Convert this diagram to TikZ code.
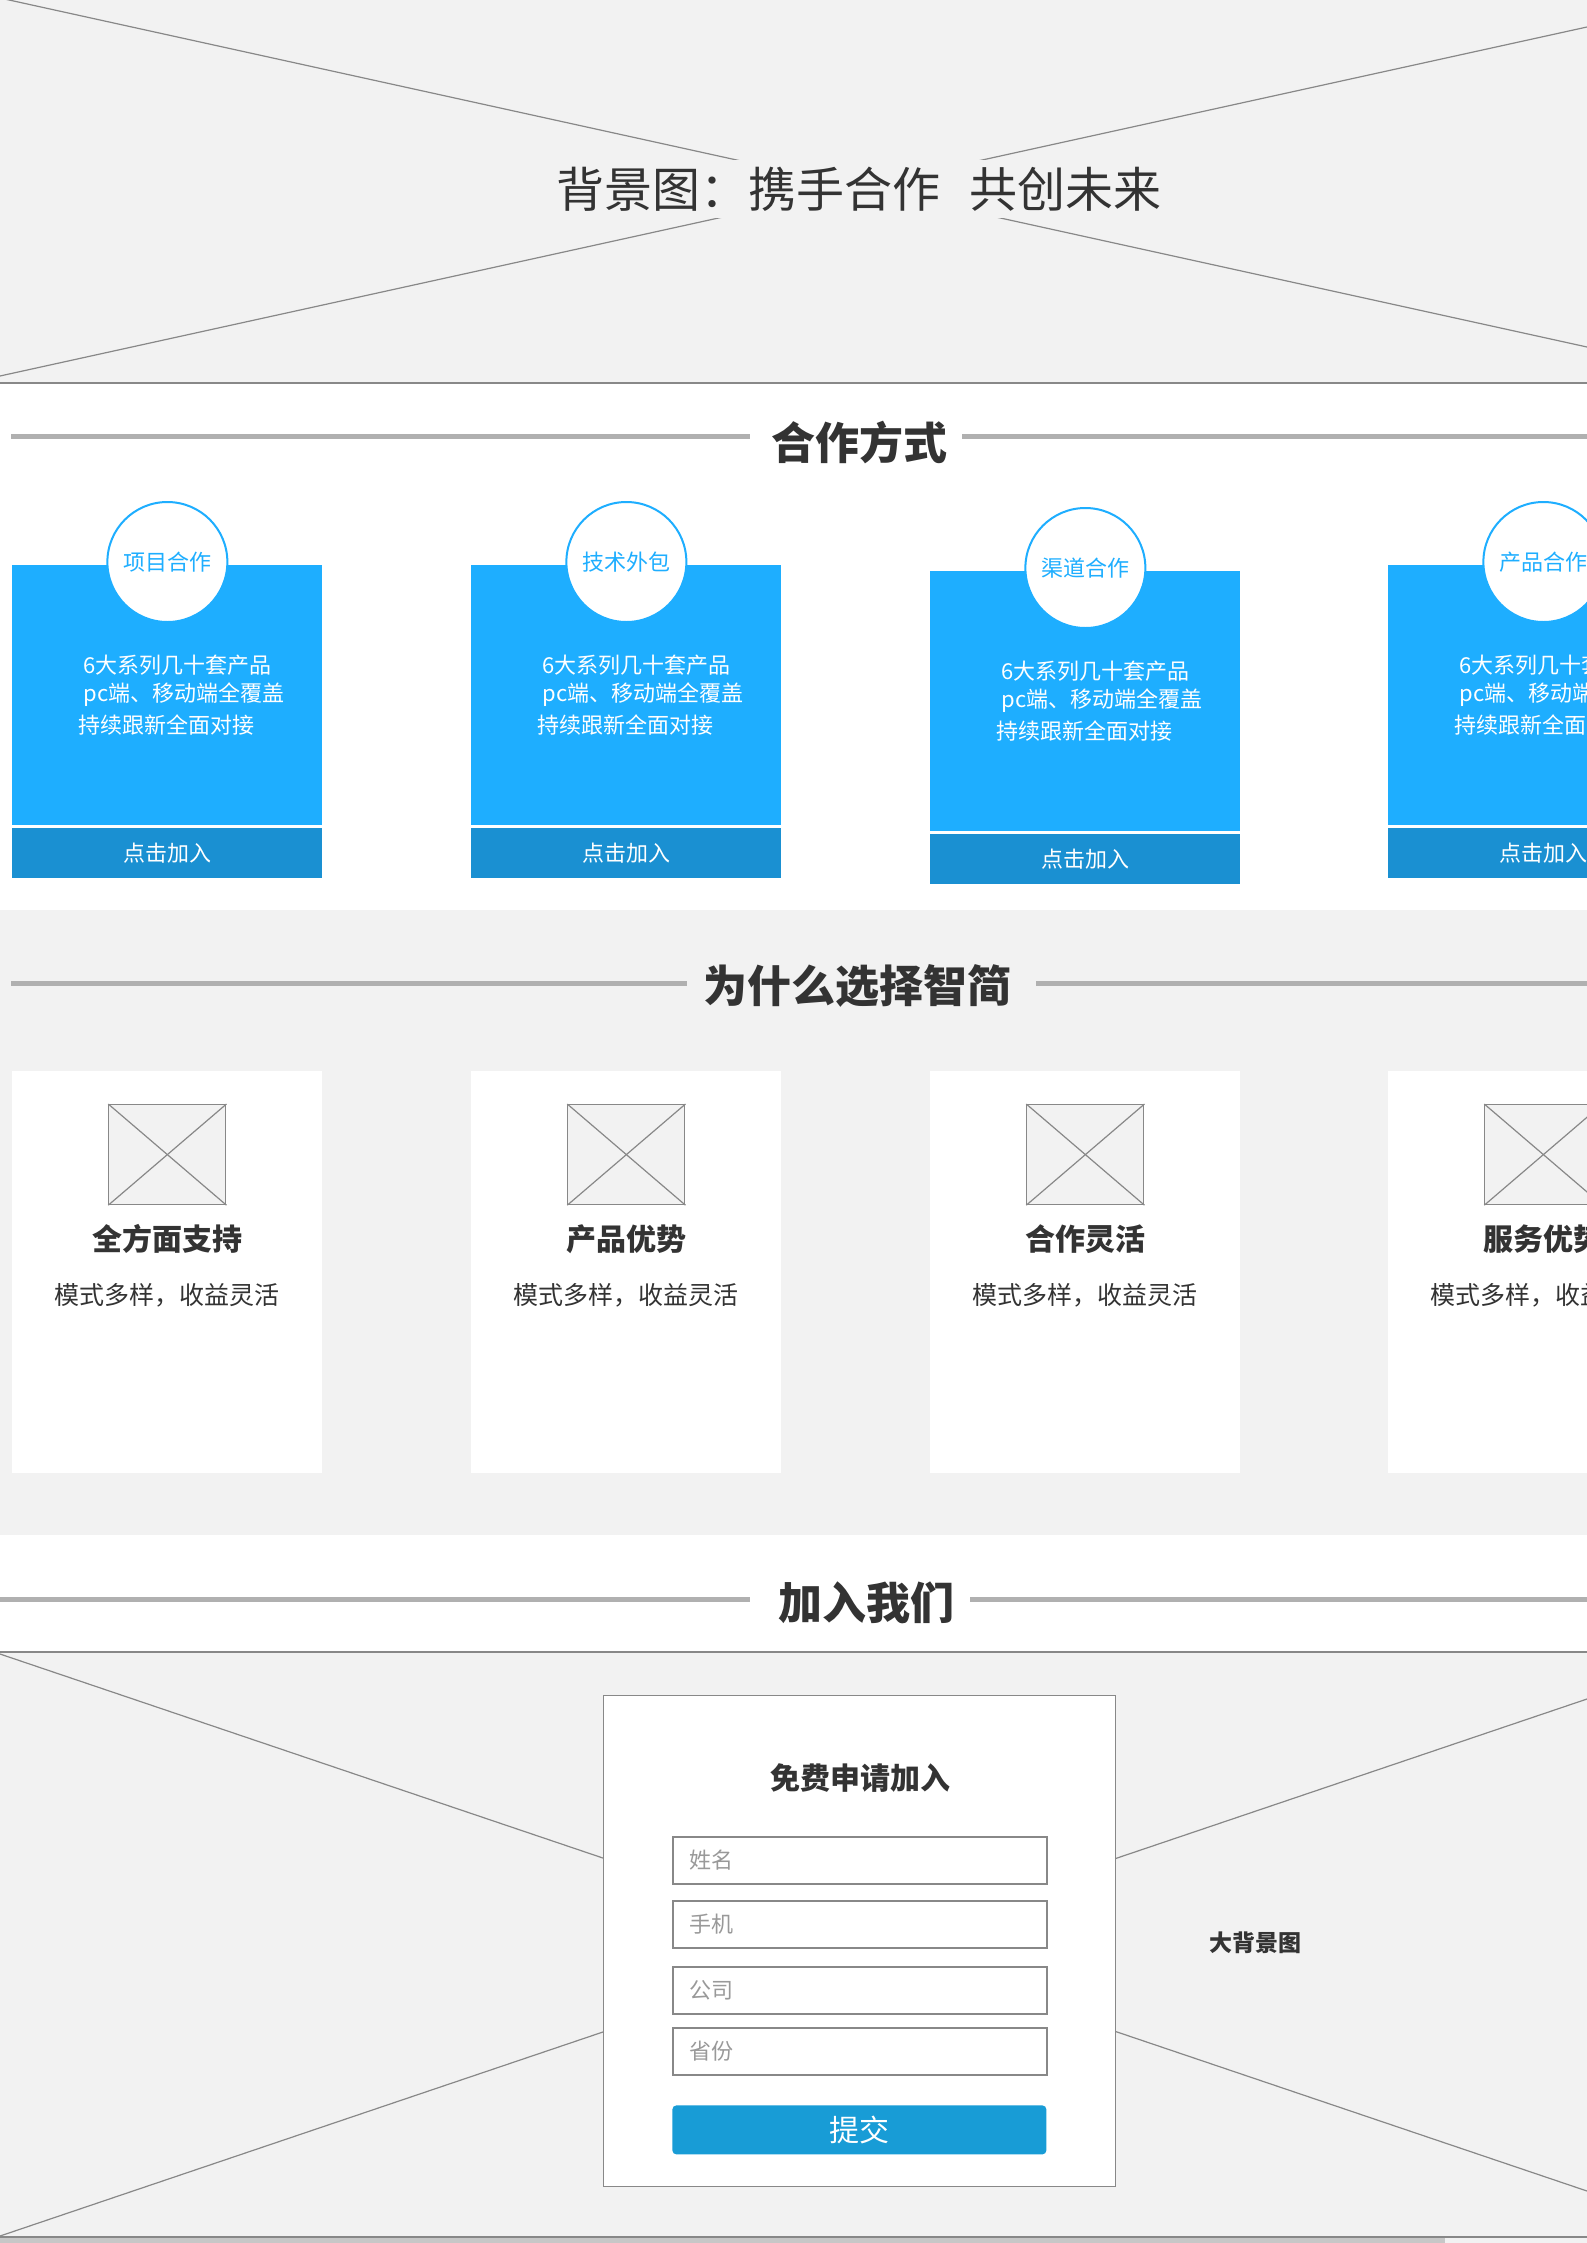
\documentclass[tikz,border=0pt]{standalone}
\usepackage{fontspec}
\setmainfont{Noto Sans CJK SC}

\definecolor{pagegrey}{RGB}{242,242,242}
\definecolor{rulegrey}{RGB}{176,176,176}
\definecolor{edgegrey}{RGB}{136,136,136}
\definecolor{inkgrey}{RGB}{51,51,51}
\definecolor{hintgrey}{RGB}{153,153,153}
\definecolor{cardblue}{RGB}{30,174,255}
\definecolor{bandblue}{RGB}{26,144,210}
\definecolor{btnblue}{RGB}{24,156,214}

\tikzset{every picture/.style={line width=0.75pt},
  crossline/.style={draw=edgegrey, line width=1.2pt},
  headrule/.style={draw=rulegrey, line width=5pt},
  headtext/.style={text=inkgrey, inner sep=0pt, font=\fontsize{44}{52}\selectfont\bfseries},
  bannertext/.style={fill=pagegrey, text=inkgrey, inner xsep=6pt, inner ysep=7pt, font=\fontsize{48}{56}\selectfont},
  cardtop/.style={fill=cardblue, draw=none, minimum width=310pt, minimum height=260pt, inner sep=0pt},
  cardband/.style={fill=bandblue, draw=none, minimum width=310pt, minimum height=50pt, inner sep=0pt, text=white, font=\fontsize{22}{26}\selectfont},
  tagcircle/.style={circle, fill=white, draw=cardblue, line width=2pt, minimum size=120pt, inner sep=0pt, text=cardblue, font=\fontsize{22}{26}\selectfont},
  cardline/.style={anchor=west, inner sep=0pt, text=white, font=\fontsize{22}{26}\selectfont},
  infocard/.style={fill=white, draw=none, minimum width=310pt, minimum height=402pt, inner sep=0pt},
  picbox/.style={fill=pagegrey, draw=edgegrey, line width=1.2pt, minimum width=117pt, minimum height=100pt, inner sep=0pt},
  infotitle/.style={text=inkgrey, inner sep=0pt, font=\fontsize{30}{36}\selectfont\bfseries},
  infotext/.style={text=inkgrey, inner sep=0pt, font=\fontsize{25}{30}\selectfont},
  formbox/.style={fill=white, draw=edgegrey, line width=1pt, minimum width=512pt, minimum height=491pt, inner sep=0pt},
  inputbox/.style={fill=white, draw=edgegrey, line width=1.5pt, text width=340pt, align=left, inner xsep=17pt, minimum height=47pt, text=hintgrey, font=\fontsize{22}{26}\selectfont},
  sendbtn/.style={fill=btnblue, draw=none, rounded corners=4pt, minimum width=374pt, minimum height=49pt, inner sep=0pt, text=white, font=\fontsize{30}{36}\selectfont}
}

\begin{document}
\begin{tikzpicture}[x=1pt,y=1pt,yscale=-1,xscale=1]
\clip (0,0) rectangle (1587,2243);

% Background panels
\fill[pagegrey] (0,0) rectangle (1587,383);
\fill[white] (0,383) rectangle (1587,910);
\fill[pagegrey] (0,910) rectangle (1587,1535);
\fill[white] (0,1535) rectangle (1587,1652);
\fill[pagegrey] (0,1652) rectangle (1587,2243);
\fill[black!22] (0,2238) rectangle (1445,2243);

%Straight Lines [banner cross]
\begin{scope}
\clip (0,0) rectangle (1587,383);
\draw[crossline] (0,-2) -- (1587,347);
\draw[crossline] (0,376) -- (1587,27);
\end{scope}
\draw[edgegrey, line width=2pt] (0,383) -- (1587,383);

% Text Node
\node[bannertext] (banner) at (859,189) {背景图：携手合作\hspace{0.6em}共创未来};

% Heading: cooperation
\node[headtext] (hcoop) at (859,443) {合作方式};
\draw[headrule] (11,436) -- (750,436);
\draw[headrule] (962,436) -- (1587,436);

% Card 1
\node[cardtop, anchor=north west] (ct1) at (12,565) {};
\node[tagcircle] (tag1) at ([yshift=-3pt]ct1.north) {项目合作};
\node[cardline] (ca1) at ([xshift=71pt,yshift=100pt]ct1.north west) {6大系列几十套产品};
\node[cardline] (cb1) at ([xshift=71pt,yshift=130pt]ct1.north west) {pc端、移动端全覆盖};
\node[cardline] (cc1) at ([xshift=66pt,yshift=160pt]ct1.north west) {持续跟新全面对接};
\node[cardband, anchor=north] (band1) at ([yshift=2pt]ct1.south) {点击加入};

% Card 2
\node[cardtop, anchor=north west] (ct2) at (471,565) {};
\node[tagcircle] (tag2) at ([yshift=-3pt]ct2.north) {技术外包};
\node[cardline] (ca2) at ([xshift=71pt,yshift=100pt]ct2.north west) {6大系列几十套产品};
\node[cardline] (cb2) at ([xshift=71pt,yshift=130pt]ct2.north west) {pc端、移动端全覆盖};
\node[cardline] (cc2) at ([xshift=66pt,yshift=160pt]ct2.north west) {持续跟新全面对接};
\node[cardband, anchor=north] (band2) at ([yshift=2pt]ct2.south) {点击加入};

% Card 3
\node[cardtop, anchor=north west] (ct3) at (930,571) {};
\node[tagcircle] (tag3) at ([yshift=-3pt]ct3.north) {渠道合作};
\node[cardline] (ca3) at ([xshift=71pt,yshift=100pt]ct3.north west) {6大系列几十套产品};
\node[cardline] (cb3) at ([xshift=71pt,yshift=130pt]ct3.north west) {pc端、移动端全覆盖};
\node[cardline] (cc3) at ([xshift=66pt,yshift=160pt]ct3.north west) {持续跟新全面对接};
\node[cardband, anchor=north] (band3) at ([yshift=2pt]ct3.south) {点击加入};

% Card 4
\node[cardtop, anchor=north west] (ct4) at (1388,565) {};
\node[tagcircle] (tag4) at ([yshift=-3pt]ct4.north) {产品合作};
\node[cardline] (ca4) at ([xshift=71pt,yshift=100pt]ct4.north west) {6大系列几十套产品};
\node[cardline] (cb4) at ([xshift=71pt,yshift=130pt]ct4.north west) {pc端、移动端全覆盖};
\node[cardline] (cc4) at ([xshift=66pt,yshift=160pt]ct4.north west) {持续跟新全面对接};
\node[cardband, anchor=north] (band4) at ([yshift=2pt]ct4.south) {点击加入};

% Heading: why
\node[headtext] (hwhy) at (857,986) {为什么选择智简};
\draw[headrule] (11,983) -- (687,983);
\draw[headrule] (1036,983) -- (1587,983);

% Info card 1
\node[infocard, anchor=north west] (ic1) at (12,1071) {};
\node[picbox, anchor=north] (pb1) at ([yshift=33pt]ic1.north) {};
\draw[crossline] (pb1.north west) -- (pb1.south east) (pb1.north east) -- (pb1.south west);
\node[infotitle] (it1) at ([yshift=168pt]ic1.north) {全方面支持};
\node[infotext] (is1) at ([yshift=224pt]ic1.north) {模式多样，收益灵活};

% Info card 2
\node[infocard, anchor=north west] (ic2) at (471,1071) {};
\node[picbox, anchor=north] (pb2) at ([yshift=33pt]ic2.north) {};
\draw[crossline] (pb2.north west) -- (pb2.south east) (pb2.north east) -- (pb2.south west);
\node[infotitle] (it2) at ([yshift=168pt]ic2.north) {产品优势};
\node[infotext] (is2) at ([yshift=224pt]ic2.north) {模式多样，收益灵活};

% Info card 3
\node[infocard, anchor=north west] (ic3) at (930,1071) {};
\node[picbox, anchor=north] (pb3) at ([yshift=33pt]ic3.north) {};
\draw[crossline] (pb3.north west) -- (pb3.south east) (pb3.north east) -- (pb3.south west);
\node[infotitle] (it3) at ([yshift=168pt]ic3.north) {合作灵活};
\node[infotext] (is3) at ([yshift=224pt]ic3.north) {模式多样，收益灵活};

% Info card 4
\node[infocard, anchor=north west] (ic4) at (1388,1071) {};
\node[picbox, anchor=north] (pb4) at ([yshift=33pt]ic4.north) {};
\draw[crossline] (pb4.north west) -- (pb4.south east) (pb4.north east) -- (pb4.south west);
\node[infotitle] (it4) at ([yshift=168pt]ic4.north) {服务优势};
\node[infotext] (is4) at ([yshift=224pt]ic4.north) {模式多样，收益灵活};

% Heading: join
\node[headtext] (hjoin) at (866,1603) {加入我们};
\draw[headrule] (0,1599) -- (750,1599);
\draw[headrule] (970,1599) -- (1587,1599);

%Straight Lines [form cross]
\begin{scope}
\clip (0,1652) rectangle (1587,2237);
\draw[crossline] (0,1654) -- (1587,2191);
\draw[crossline] (0,2236) -- (1587,1699);
\end{scope}
\draw[edgegrey, line width=1.5pt] (0,1652) -- (1587,1652);
\draw[edgegrey, line width=1.5pt] (0,2237) -- (1587,2237);

% Form
\node[formbox, anchor=north west] (form) at (603,1695) {};
\node[infotitle] (ftitle) at (860,1778) {免费申请加入};
\node[inputbox, anchor=north west] (fname) at (672,1836) {姓名};
\node[inputbox, anchor=north west] (fphone) at (672,1900) {手机};
\node[inputbox, anchor=north west] (fcompany) at (672,1966) {公司};
\node[inputbox, anchor=north west] (fprovince) at (672,2027) {省份};
\node[sendbtn, anchor=north west] (fsend) at (672,2105) {提交};

% Text Node
\node[text=inkgrey, font=\fontsize{23}{28}\selectfont\bfseries] (bgnote) at (1255,1943) {大背景图};

\end{tikzpicture}
\end{document}
